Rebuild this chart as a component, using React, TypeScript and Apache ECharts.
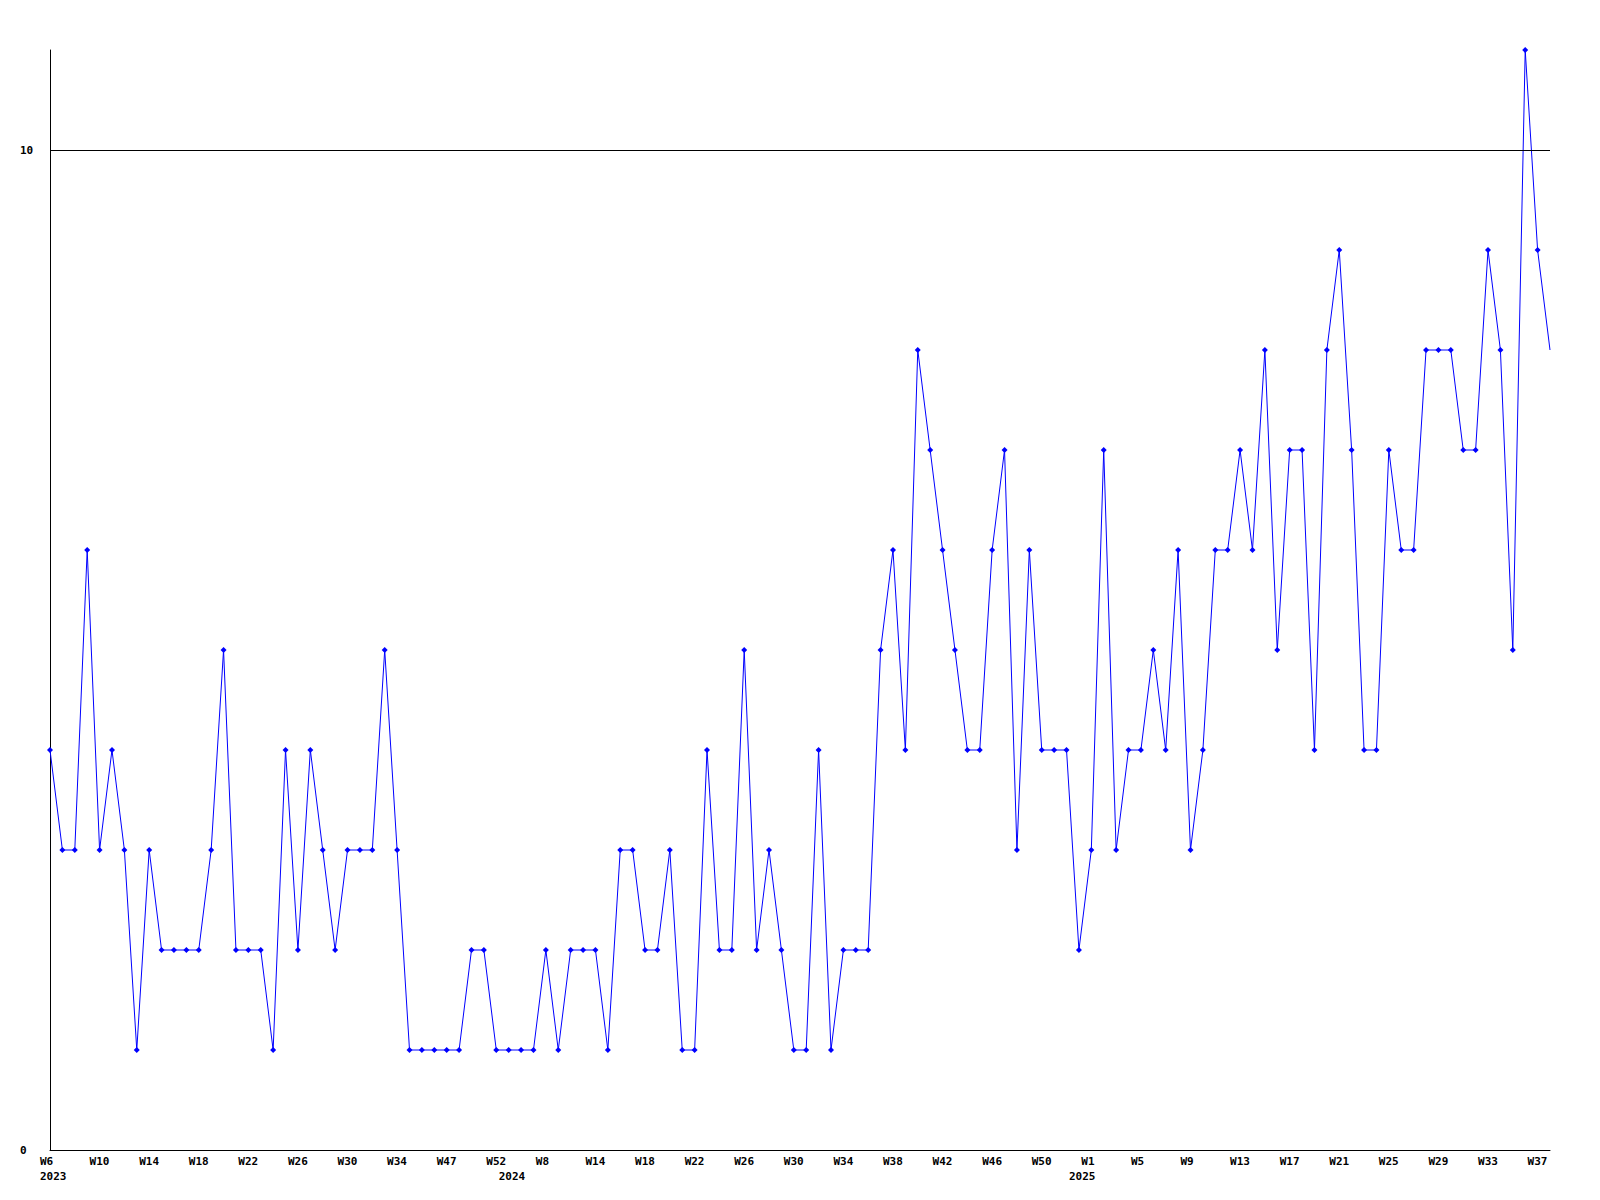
import React, { useEffect, useRef } from "react";
import * as echarts from "echarts";

// Week numbers for each data point (x categories)
const weeks: number[] = [
  6, 7, 8, 9, 10, 11, 12, 13, 14, 15, 16, 17, 18, 19, 20, 21, 22, 23, 24, 25, 26, 27, 28, 29, 30, 31, 32, 33, 34,
  35, 45, 46,
  47, 48, 49, 51, 52,
  1, 3, 5,
  8,
  9, 11, 13,
  14, 15, 16, 17, 18, 19, 20, 21, 22, 23, 24, 25, 26, 27, 28, 29, 30, 31, 32, 33, 34, 35, 36, 37, 38, 39, 40, 41, 42, 43, 44, 45, 46, 47, 48, 49, 50,
  51, 52,
  0,
  1, 2, 3, 4, 5, 6, 7, 8, 9, 10, 11, 12, 13, 14, 15, 16, 17, 18, 19, 20, 21, 22, 23, 24, 25, 26, 27, 28, 29, 30, 31, 32, 33, 34, 35, 36, 37, 38,
];

// Calendar year of each data point
const years: number[] = [
  2023, 2023, 2023, 2023, 2023, 2023, 2023, 2023, 2023, 2023, 2023, 2023, 2023, 2023, 2023, 2023, 2023, 2023, 2023, 2023,
  2023, 2023, 2023, 2023, 2023, 2023, 2023, 2023, 2023, 2023, 2023, 2023, 2023, 2023, 2023, 2023, 2023,
  2024, 2024, 2024, 2024, 2024, 2024, 2024, 2024, 2024, 2024, 2024, 2024, 2024, 2024, 2024, 2024, 2024, 2024, 2024, 2024,
  2024, 2024, 2024, 2024, 2024, 2024, 2024, 2024, 2024, 2024, 2024, 2024, 2024, 2024, 2024, 2024, 2024, 2024, 2024, 2024,
  2024, 2024, 2024, 2024, 2024, 2024,
  2025, 2025, 2025, 2025, 2025, 2025, 2025, 2025, 2025, 2025, 2025, 2025, 2025, 2025, 2025, 2025, 2025, 2025, 2025, 2025,
  2025, 2025, 2025, 2025, 2025, 2025, 2025, 2025, 2025, 2025, 2025, 2025, 2025, 2025, 2025, 2025, 2025, 2025, 2025,
];

const counts: number[] = [
  4, 3, 3, 6, 3, 4, 3, 1, 3, 2,
  2, 2, 2, 3, 5, 2, 2, 2, 1, 4,
  2, 4, 3, 2, 3, 3, 3, 5, 3, 1,
  1, 1, 1, 1, 2, 2, 1, 1, 1, 1,
  2, 1, 2, 2, 2, 1, 3, 3, 2, 2,
  3, 1, 1, 4, 2, 2, 5, 2, 3, 2,
  1, 1, 4, 1, 2, 2, 2, 5, 6, 4,
  8, 7, 6, 5, 4, 4, 6, 7, 3, 6,
  4, 4, 4, 2, 3, 7, 3, 4, 4, 5,
  4, 6, 3, 4, 6, 6, 7, 6, 8, 5,
  7, 7, 4, 8, 9, 7, 4, 4, 7, 6,
  6, 8, 8, 8, 7, 7, 9, 8, 5, 11,
  9, 8,
];

const yMin = 0;
const yMax = 11;
const yInterval = 10;
const refLine = 10;

const FONT = "DejaVu Sans Mono";

export default function App() {
  const ref = useRef<HTMLDivElement>(null);

  useEffect(() => {
    if (!ref.current) return;
    const chart = echarts.init(ref.current, undefined, { renderer: "svg" });
    const categories = weeks.map((w, i) => `${years[i]}-W${w}`);
    const labelEvery = 4;

    const textBase = {
      color: "#000",
      fontFamily: FONT,
      fontWeight: "bold",
      fontSize: 11,
      lineHeight: 14,
    };
    const rich = { a: { ...textBase, width: 20, align: "left" } };

    chart.setOption({
      animation: false,
      backgroundColor: "#ffffff",
      grid: { left: 50, right: 50, top: 50, bottom: 50, containLabel: false },
      xAxis: [
        {
          type: "category",
          data: categories,
          boundaryGap: false,
          axisLine: { show: true, lineStyle: { color: "#000", width: 1 } },
          axisTick: { show: false },
          splitLine: { show: false },
          axisLabel: {
            ...textBase,
            interval: labelEvery - 1,
            margin: 4,
            align: "center",
            formatter: (_v: string, idx: number) => `{a|W${weeks[idx]}}`,
            rich,
          },
        },
        {
          type: "category",
          data: categories,
          position: "bottom",
          boundaryGap: false,
          axisLine: { show: false },
          axisTick: { show: false },
          splitLine: { show: false },
          axisLabel: {
            ...textBase,
            interval: (idx: number) => idx === 0 || years[idx] !== years[idx - 1],
            margin: 19,
            align: "center",
            formatter: (_v: string, idx: number) => `{a|${years[idx]}}`,
            rich,
          },
        },
      ],
      yAxis: {
        type: "value",
        min: yMin,
        max: yMax,
        interval: yInterval,
        axisLine: { show: true, lineStyle: { color: "#000", width: 1 } },
        axisTick: { show: false },
        splitLine: { show: false },
        axisLabel: {
          margin: 30,
          align: "left",
          color: "#000",
          fontFamily: FONT,
          fontWeight: "bold",
          fontSize: 11,
          formatter: (v: number) => (v === yMax ? "" : String(v)),
        },
      },
      series: [
        {
          type: "line",
          xAxisIndex: 0,
          data: counts.map((v, i) =>
            i === counts.length - 1 ? { value: v, symbol: "none" } : v
          ),
          color: "#0000ff",
          lineStyle: { color: "#0000ff", width: 1 },
          itemStyle: { color: "#0000ff" },
          symbol: "diamond",
          symbolSize: 6,
          showSymbol: true,
          showAllSymbol: true,
          markLine: {
            silent: true,
            symbol: ["none", "none"],
            label: { show: false },
            lineStyle: { color: "#000", type: "solid", width: 1 },
            data: [{ yAxis: refLine }],
          },
          z: 3,
        },
      ],
    });

    return () => chart.dispose();
  }, []);

  return (
    <div
      ref={ref}
      style={{ position: "absolute", left: 0, top: 0, width: 1600, height: 1200, background: "#fff" }}
    />
  );
}
